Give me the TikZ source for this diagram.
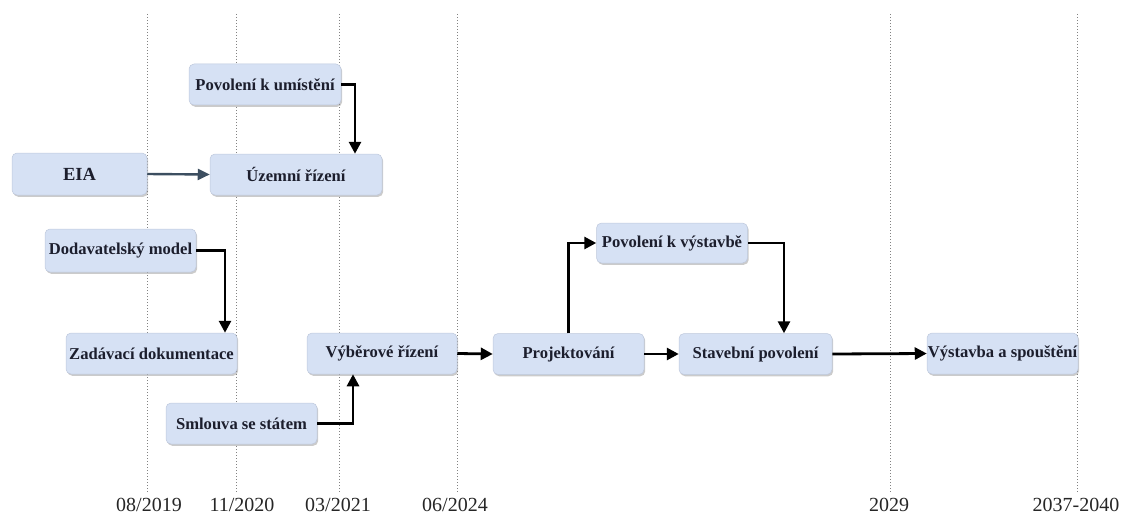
\documentclass[tikz,border=0pt]{standalone}
\usepackage{fontspec}
\setmainfont{Liberation Serif}
\usetikzlibrary{arrows.meta,shadows}
\definecolor{boxfill}{RGB}{214,225,244}
\definecolor{boxline}{RGB}{190,200,220}
\definecolor{txt}{RGB}{28,30,45}
\definecolor{slate}{RGB}{60,78,96}
\definecolor{gridc}{RGB}{130,130,130}
\tikzset{
  stage/.style={rectangle, rounded corners=5pt, fill=boxfill, draw=boxline, line width=0.5pt,
    minimum height=41pt, inner sep=0pt, text=txt,
    font=\fontsize{16.6}{18}\selectfont\bfseries,
    drop shadow={shadow xshift=1.2pt, shadow yshift=-1.8pt, fill=black!45, opacity=0.45}},
  arr/.style={line width=2.8pt, -{Triangle[length=12pt,width=12pt]}, black},
  arrslate/.style={line width=2.4pt, -{Triangle[length=12pt,width=11pt]}, slate},
  grid/.style={gridc, line width=1pt, dash pattern=on 1pt off 2pt},
  datelbl/.style={font=\fontsize{20}{22}\selectfont, text=black!85, inner sep=0pt}
}
\begin{document}
\begin{tikzpicture}[x=1pt,y=-1pt]
\useasboundingbox (0,0) rectangle (1126,516);
% timeline grid lines
\foreach \gx in {147,236,339,457,890,1077}
  \draw[grid] (\gx,14) -- (\gx,492);
% date labels
\node[datelbl] (d1) at (149,505) {08/2019};
\node[datelbl] (d2) at (242,505) {11/2020};
\node[datelbl] (d3) at (338,505) {03/2021};
\node[datelbl] (d4) at (455,505) {06/2024};
\node[datelbl] (d5) at (889,505) {2029};
\node[datelbl] (d6) at (1076,505) {2037-2040};
% stages
\node[stage, minimum width=152pt] (pku) at (265,84.5) {Povolení k umístění};
\node[stage, minimum width=135pt, minimum height=42pt, font=\fontsize{18.5}{20}\selectfont\bfseries] (eia) at (79.5,174) {EIA};
\node[stage, minimum width=172pt] (uz) at (296,174.5) {Územní řízení};
\node[stage, minimum width=151pt, minimum height=43pt] (dod) at (120.5,250.5) {Dodavatelský model};
\node[stage, minimum width=171pt] (zad) at (151.5,353.5) {Zadávací dokumentace};
\node[stage, minimum width=150pt] (vyb) at (382,353.5) {Výběrové řízení};
\node[stage, minimum width=151pt] (sml) at (241.5,423.5) {Smlouva se státem};
\node[stage, minimum width=151pt, minimum height=40pt] (pkv) at (672,243) {Povolení k výstavbě};
\node[stage, minimum width=151pt] (proj) at (568.5,354) {Projektování};
\node[stage, minimum width=153pt] (stav) at (755.5,354) {Stavební povolení};
\node[stage, minimum width=151pt] (vys) at (1002.5,353.5) {Výstavba a spouštění};
% helper coordinates for elbow connectors
\coordinate (k1) at (355,0);
\coordinate (k2) at (225,0);
\coordinate (k3) at (353,0);
\coordinate (k4) at (784,0);
% connectors
\draw[arrslate] (eia.east) -- (uz.west);
\draw[arr] (pku.east) -| (k1 |- uz.north);
\draw[arr] (dod.east) -| (k2 |- zad.north);
\draw[arr] (sml.east) -| (k3 |- vyb.south);
\draw[arr] (vyb.east) -- (proj.west);
\draw[arr] (proj.north) |- (pkv.west);
\draw[arr] (pkv.east) -| (k4 |- stav.north);
\draw[arr] (proj.east) -- (stav.west);
\draw[arr] (stav.east) -- (vys.west);
\end{tikzpicture}
\end{document}
